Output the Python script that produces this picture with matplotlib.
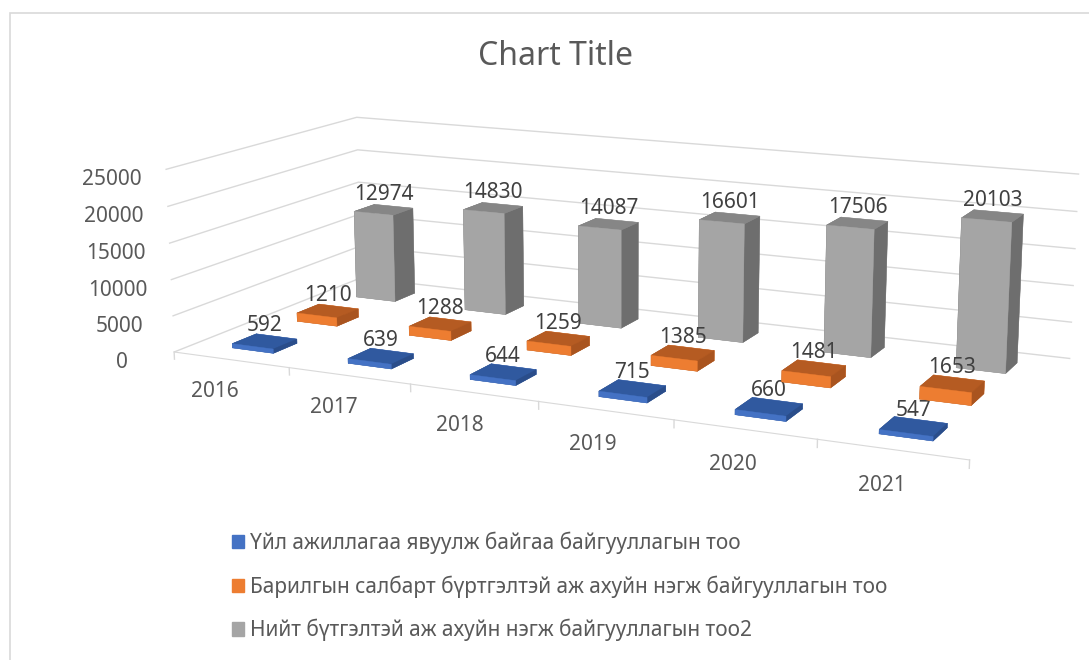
import matplotlib
matplotlib.use('Agg')
import matplotlib.pyplot as plt
from matplotlib.patches import Patch, Rectangle
import numpy as np

years = ['2016', '2017', '2018', '2019', '2020', '2021']
active_orgs = [592, 639, 644, 715, 660, 547]
construction_units = [1210, 1288, 1259, 1385, 1481, 1653]
total_units = [12974, 14830, 14087, 16601, 17506, 20103]
series_names = [
    'Үйл ажиллагаа явуулж байгаа байгууллагын тоо',
    'Барилгын салбарт бүртгэлтэй аж ахуйн нэгж байгууллагын тоо',
    'Нийт бүтгэлтэй аж ахуйн нэгж байгууллагын тоо2',
]
z_ticks = [0, 5000, 10000, 15000, 20000, 25000]

# legend colour, then the faces Excel shades: top, front, right side
palette = [
    ('#4472C4', '#30599F', '#4472C4', '#2A4D8A'),
    ('#ED7D31', '#B55B22', '#ED7D31', '#A9541F'),
    ('#A5A5A5', '#868686', '#A5A5A5', '#6E6E6E'),
]

plt.rcParams['font.family'] = ['Noto Sans', 'DejaVu Sans']
TEXT = '#595959'
GRID = '#D9D9D9'

fig = plt.figure(figsize=(10.89, 6.6), dpi=100)
fig.patches.append(Rectangle((10 / 1089, -0.1), 1.2, 1.1 - 13 / 660,
                             transform=fig.transFigure, fill=False,
                             edgecolor=GRID, linewidth=1.2))
fig.text(0.51, 0.914, 'Chart Title', ha='center', va='center',
         fontsize=23, color=TEXT)

ax = fig.add_axes([-0.292, -0.099, 1.7, 1.36], projection='3d',
                  proj_type='persp', focal_length=0.45)
ax.view_init(elev=13, azim=-65)

bar_w = 0.36
xs = np.arange(len(years))
for row, values in enumerate([active_orgs, construction_units, total_units]):
    _, top, front, side = palette[row]
    faces = [top, top, front, front, side, side] * len(xs)
    ax.bar3d(xs - bar_w / 2, np.full(len(xs), row - bar_w / 2), 0,
             bar_w, bar_w, values, color=faces, shade=False,
             edgecolor=faces, linewidth=0.3)
    for x, v in zip(xs, values):
        ax.text(x, row, v + 700, str(v), ha='center', va='bottom',
                fontsize=15, color='#404040')

ax.set_xlim(-0.5, len(years) - 0.5)
ax.set_ylim(-0.5, 2.5)
ax.set_zlim(0, 25000)
ax.set_box_aspect((6, 2.6, 1.36), zoom=1.0)

ax.set_xticks(xs)
ax.set_xticklabels(years)
ax.set_yticks([])
ax.set_zticks(z_ticks)
ax.set_zticklabels([str(t) for t in z_ticks])
ax.zaxis.set_ticks_position('lower')
ax.tick_params(axis='both', labelsize=15, labelcolor=TEXT, colors=GRID)
ax.tick_params(axis='x', pad=18)
ax.tick_params(axis='z', pad=12)

for axis in (ax.xaxis, ax.yaxis, ax.zaxis):
    axis.set_pane_color((1, 1, 1, 0))
    axis.pane.set_edgecolor((1, 1, 1, 0))
    axis._axinfo['grid']['linewidth'] = 0
    axis._axinfo['tick']['inward_factor'] = 0
    axis._axinfo['tick']['outward_factor'] = 0
ax.zaxis._axinfo['grid']['linewidth'] = 1.0
ax.zaxis._axinfo['grid']['color'] = GRID
ax.xaxis.line.set_color(GRID)
ax.yaxis.line.set_color((1, 1, 1, 0))
ax.zaxis.line.set_color((1, 1, 1, 0))

# category boundary ticks hang below the front edge
for b in np.arange(len(years) + 1) - 0.5:
    ax.plot([b, b], [-0.5, -0.5], [0, -1000], color=GRID, linewidth=1)

handles = [Patch(color=p[0]) for p in palette]
fig.legend(handles, series_names, loc='upper left',
           bbox_to_anchor=(0.205, 0.207), frameon=False, fontsize=15,
           labelcolor=TEXT, handlelength=0.6, handleheight=0.6,
           handletextpad=0.3, labelspacing=1.02, borderaxespad=0)

fig.savefig('out.png', dpi=100)
